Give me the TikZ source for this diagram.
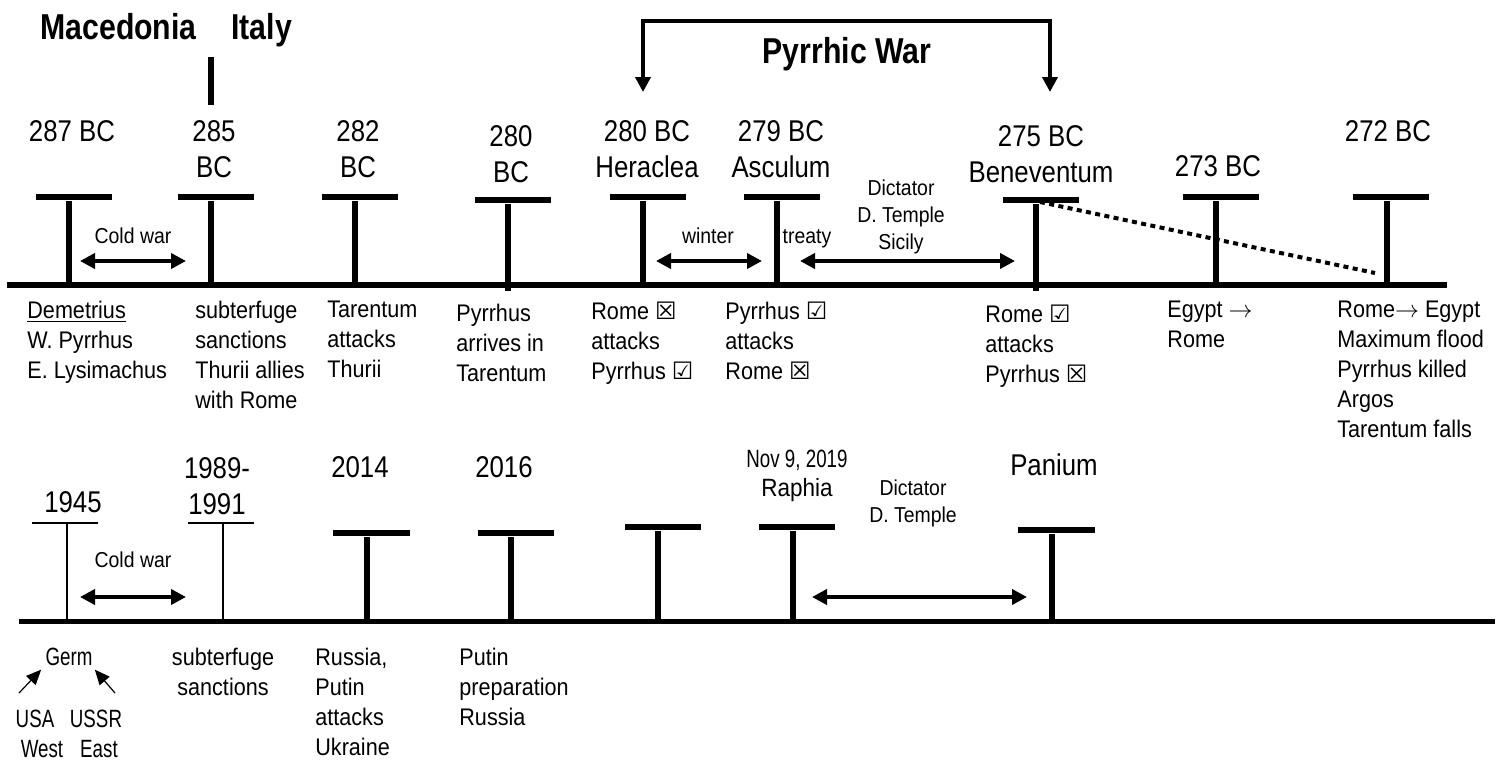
\documentclass[tikz,border=0pt]{standalone}
\usepackage{fontspec}
\setmainfont{Liberation Sans}[FakeStretch=0.9]
\newfontfamily\datefont{Liberation Sans}[FakeStretch=0.86]
\newfontfamily\headfont{Liberation Sans}[FakeStretch=0.84]
\newfontfamily\narrowfont{Liberation Sans}[FakeStretch=0.75]
\newfontfamily\symfont{DejaVu Sans}
\usetikzlibrary{arrows.meta}
\newcommand{\boxyes}{{\symfont\char"2611}}
\newcommand{\boxno}{{\symfont\char"2612}}

\begin{document}
\begin{tikzpicture}[x=0.5pt,y=-0.5pt]
    %
    % `tbar' is used for the T markers and the time axes.
    % `span' is used for the double arrows between two markers.
    % `date' sits above a marker, `note' hangs below the axis.
    \tikzstyle{tbar} = [line width=2.8pt]
    \tikzstyle{thinbar} = [line width=1pt]
    \tikzstyle{span} = [line width=2.2pt,{Triangle[length=7.5pt,width=7.5pt]}-{Triangle[length=7.5pt,width=7.5pt]}]
    \tikzstyle{pointer} = [line width=0.6pt,-{Triangle[length=7.5pt,width=6.5pt]}]
    \tikzstyle{date} = [font=\datefont\fontsize{15}{18}\selectfont,align=center,inner sep=0pt,anchor=south]
    \tikzstyle{note} = [font=\fontsize{12}{15}\selectfont,align=left,inner sep=0pt,anchor=north west]
    \tikzstyle{gap} = [font=\fontsize{10.8}{13.5}\selectfont,align=center,inner sep=0pt]
    \tikzstyle{head} = [font=\headfont\bfseries\fontsize{18}{22}\selectfont,inner sep=0pt,anchor=base west]
    \tikzstyle{narrow} = [font=\narrowfont\fontsize{12.5}{15}\selectfont,inner sep=0pt,anchor=base]
    %
    \useasboundingbox (0,0) rectangle (1501,761);
    %
    % Headings
    \node[head] (mac) at (40,39) {Macedonia};
    \node[head] (ita) at (231,39) {Italy};
    \draw[tbar] (211,57) -- (211,105);
    \node[head,anchor=base] (pw) at (847,63) {Pyrrhic War};
    \coordinate (pwL) at (643,92);
    \coordinate (pwR) at (1050,92);
    \draw[span,line join=miter] (pwL) -- (643,21) -- (1050,21) -- (pwR);
    %
    % Ancient axis
    \coordinate (topL) at (7,285);
    \coordinate (topR) at (1447,285);
    \draw[tbar] (topL) -- (topR);
    %
    % 287 BC
    \draw[tbar] (36,197) -- (112,197);
    \draw[tbar] (69,201) -- (69,287);
    \node[date] (d287) at (72,142) {287 BC};
    \node[note] (n287) at (27,301) {\underline{Demetrius}\\W. Pyrrhus\\E. Lysimachus};
    %
    % 285 BC
    \draw[tbar] (178,197) -- (254,197);
    \draw[tbar] (211,201) -- (211,287);
    \node[date] (d285) at (214,178) {285\\BC};
    \node[note] (n285) at (195,301) {subterfuge\\sanctions\\Thurii allies\\with Rome};
    %
    % 282 BC
    \draw[tbar] (322,197) -- (398,197);
    \draw[tbar] (355,201) -- (355,287);
    \node[date] (d282) at (358,178) {282\\BC};
    \node[note] (n282) at (327,301) {Tarentum\\attacks\\Thurii};
    %
    % 280 BC
    \draw[tbar] (475,200) -- (551,200);
    \draw[tbar] (508,204) -- (508,291);
    \node[date] (d280) at (511,183) {280\\BC};
    \node[note] (n280) at (456,304) {Pyrrhus\\arrives in\\Tarentum};
    %
    % Heraclea
    \draw[tbar] (610,197) -- (686,197);
    \draw[tbar] (643,201) -- (643,287);
    \node[date] (dhera) at (647,178) {280 BC\\Heraclea};
    \node[note] (nhera) at (591,302) {Rome \boxno\\attacks\\Pyrrhus \boxyes};
    %
    % Asculum
    \draw[tbar] (744,197) -- (820,197);
    \draw[tbar] (777,201) -- (777,287);
    \node[date] (dasc) at (781,178) {279 BC\\Asculum};
    \node[note] (nasc) at (725,302) {Pyrrhus \boxyes\\attacks\\Rome \boxno};
    %
    % Beneventum
    \draw[tbar] (1003,200) -- (1079,200);
    \draw[tbar] (1036,204) -- (1036,291);
    \node[date] (dbene) at (1041,183) {275 BC\\Beneventum};
    \node[note] (nbene) at (985,305) {Rome \boxyes\\attacks\\Pyrrhus \boxno};
    %
    % 273 BC
    \draw[tbar] (1183,197) -- (1259,197);
    \draw[tbar] (1216,201) -- (1216,287);
    \node[date] (d273) at (1218,177) {273 BC};
    \node[note] (n273) at (1167,301) {Egypt $\rightarrow$\\Rome};
    %
    % 272 BC
    \draw[tbar] (1353,197) -- (1429,197);
    \draw[tbar] (1387,201) -- (1387,287);
    \node[date] (d272) at (1388,142) {272 BC};
    \node[note] (n272) at (1337,301) {Rome$\rightarrow$ Egypt\\Maximum flood\\Pyrrhus killed\\Argos\\Tarentum falls};
    %
    % Spans between markers
    \coordinate (cw1a) at (80,261);
    \coordinate (cw1b) at (186,261);
    \draw[span] (cw1a) -- (cw1b);
    \node[gap,anchor=base] (cw1) at (133,243) {Cold war};
    \coordinate (wa) at (656,261);
    \coordinate (wb) at (762,261);
    \draw[span] (wa) -- (wb);
    \node[gap,anchor=base] (wint) at (708,243) {winter};
    \node[gap,anchor=base] (treaty) at (807,243) {treaty};
    \coordinate (sa) at (800,261);
    \coordinate (sb) at (1015,261);
    \draw[span] (sa) -- (sb);
    \node[gap,anchor=north] (sicily) at (901,179) {Dictator\\D. Temple\\Sicily};
    \coordinate (dotA) at (1040,202);
    \coordinate (dotB) at (1375,273);
    \draw[line width=2pt,dash pattern=on 2.5pt off 2.2pt] (dotA) -- (dotB);
    %
    % Modern axis
    \coordinate (botL) at (19,621);
    \coordinate (botR) at (1495,621);
    \draw[line width=2.5pt] (botL) -- (botR);
    %
    % 1945
    \draw[thinbar] (32,523) -- (98,523);
    \draw[thinbar] (67,523) -- (67,621);
    \node[date] (d1945) at (73,513) {1945};
    \node[narrow] (germ) at (69,665) {Germ};
    \node[narrow] (usa) at (35,727) {USA};
    \node[narrow] (ussr) at (96,727) {USSR};
    \node[narrow] (west) at (42,757) {West};
    \node[narrow] (east) at (99,757) {East};
    \coordinate (usaFrom) at (19,693);
    \coordinate (ussrFrom) at (115,693);
    \draw[pointer] (usaFrom) -- ([shift={(-4,4)}]germ.south west);
    \draw[pointer] (ussrFrom) -- ([shift={(2,4)}]germ.south east);
    %
    % 1989-1991
    \draw[thinbar] (188,523) -- (254,523);
    \draw[thinbar] (223,523) -- (223,621);
    \node[date] (d1989) at (217,515) {1989-\\1991};
    \node[note,anchor=north,align=center] (n1989) at (223,648) {subterfuge\\sanctions};
    %
    % 2014
    \draw[tbar] (333,533) -- (410,533);
    \draw[tbar] (367,537) -- (367,624);
    \node[date] (d2014) at (360,478) {2014};
    \node[note] (n2014) at (315,648) {Russia,\\Putin\\attacks\\Ukraine};
    %
    % 2016
    \draw[tbar] (478,533) -- (554,533);
    \draw[tbar] (511,537) -- (511,624);
    \node[date] (d2016) at (504,478) {2016};
    \node[note] (n2016) at (459,648) {Putin\\preparation\\Russia};
    %
    % unlabelled marker
    \draw[tbar] (625,527) -- (701,527);
    \draw[tbar] (658,531) -- (658,621);
    %
    % Raphia
    \draw[tbar] (759,527) -- (835,527);
    \draw[tbar] (793,531) -- (793,621);
    \node[date,anchor=north,font=\fontsize{12.5}{14.5}\selectfont] (draphia) at (797,450) {{\narrowfont Nov 9, 2019}\\Raphia};
    %
    % Panium
    \draw[tbar] (1018,530) -- (1095,530);
    \draw[tbar] (1052,534) -- (1052,621);
    \node[date] (dpanium) at (1054,476) {Panium};
    %
    % Spans between markers
    \coordinate (cw2a) at (80,597);
    \coordinate (cw2b) at (186,597);
    \draw[span] (cw2a) -- (cw2b);
    \node[gap,anchor=base] (cw2) at (133,567) {Cold war};
    \coordinate (ta) at (812,597);
    \coordinate (tb) at (1027,597);
    \draw[span] (ta) -- (tb);
    \node[gap,anchor=north] (temple) at (913,479) {Dictator\\D. Temple};
    %
\end{tikzpicture}
\end{document}
